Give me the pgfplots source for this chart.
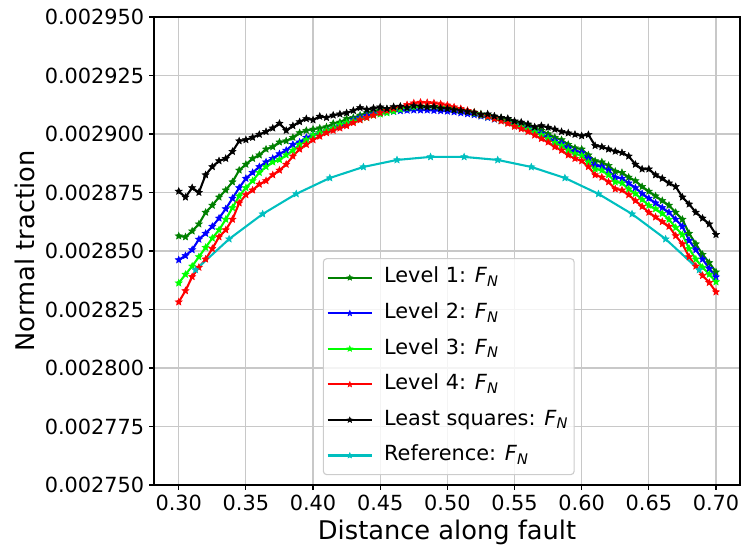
\documentclass[border=0pt]{standalone}
\usepackage{fontspec}
\setmainfont{DejaVu Sans}
\usepackage{pgfplots}
\usepackage{pgfplotstable}
\pgfplotsset{compat=1.18}
\usetikzlibrary{calc}

\definecolor{mgreen}{HTML}{008000}
\definecolor{mblue}{HTML}{0000FF}
\definecolor{mlime}{HTML}{00FF00}
\definecolor{mred}{HTML}{FF0000}
\definecolor{mcyan}{HTML}{00BFBF}
\definecolor{mgrid}{HTML}{C8C8C8}

\newcommand{\FN}{\textit{F}\textsubscript{\textit{N}}}

% filled five-pointed star like matplotlib's '*'
\pgfdeclareplotmark{mstar}{%
  \pgfpathmoveto{\pgfpointpolar{90}{\pgfplotmarksize}}%
  \pgfpathlineto{\pgfpointpolar{126}{0.45\pgfplotmarksize}}%
  \pgfpathlineto{\pgfpointpolar{162}{\pgfplotmarksize}}%
  \pgfpathlineto{\pgfpointpolar{198}{0.45\pgfplotmarksize}}%
  \pgfpathlineto{\pgfpointpolar{234}{\pgfplotmarksize}}%
  \pgfpathlineto{\pgfpointpolar{270}{0.45\pgfplotmarksize}}%
  \pgfpathlineto{\pgfpointpolar{306}{\pgfplotmarksize}}%
  \pgfpathlineto{\pgfpointpolar{342}{0.45\pgfplotmarksize}}%
  \pgfpathlineto{\pgfpointpolar{18}{\pgfplotmarksize}}%
  \pgfpathlineto{\pgfpointpolar{54}{0.45\pgfplotmarksize}}%
  \pgfpathclose
  \pgfusepathqfillstroke
}

% normal traction per level (x, L1..L4, least squares)
\pgfplotstableread{
x L1 L2 L3 L4 LS
0.300 0.0028564 0.0028462 0.0028363 0.0028282 0.0028755
0.305 0.0028560 0.0028480 0.0028400 0.0028330 0.0028730
0.310 0.0028585 0.0028505 0.0028435 0.0028390 0.0028770
0.315 0.0028615 0.0028550 0.0028475 0.0028430 0.0028750
0.320 0.0028665 0.0028575 0.0028515 0.0028465 0.0028825
0.325 0.0028695 0.0028605 0.0028555 0.0028510 0.0028860
0.330 0.0028730 0.0028640 0.0028590 0.0028560 0.0028885
0.335 0.0028760 0.0028680 0.0028635 0.0028590 0.0028895
0.340 0.0028795 0.0028725 0.0028685 0.0028635 0.0028925
0.345 0.0028845 0.0028770 0.0028735 0.0028705 0.0028970
0.350 0.0028870 0.0028810 0.0028770 0.0028740 0.0028975
0.355 0.0028895 0.0028835 0.0028800 0.0028760 0.0028985
0.360 0.0028910 0.0028860 0.0028835 0.0028785 0.0028998
0.365 0.0028935 0.0028880 0.0028860 0.0028800 0.0029010
0.370 0.0028945 0.0028895 0.0028880 0.0028825 0.0029025
0.375 0.0028965 0.0028915 0.0028890 0.0028845 0.0029045
0.380 0.0028970 0.0028930 0.0028910 0.0028870 0.0029015
0.385 0.0028985 0.0028955 0.0028930 0.0028905 0.0029035
0.390 0.0029005 0.0028965 0.0028955 0.0028935 0.0029052
0.395 0.0029015 0.0028985 0.0028975 0.0028955 0.0029065
0.400 0.0029020 0.0028995 0.0028995 0.0028975 0.0029060
0.405 0.0029025 0.0029005 0.0029005 0.0028990 0.0029075
0.410 0.0029030 0.0029015 0.0029015 0.0029005 0.0029070
0.415 0.0029045 0.0029025 0.0029025 0.0029015 0.0029080
0.420 0.0029050 0.0029035 0.0029040 0.0029025 0.0029085
0.425 0.0029065 0.0029045 0.0029048 0.0029035 0.0029090
0.430 0.0029070 0.0029060 0.0029055 0.0029048 0.0029100
0.435 0.0029080 0.0029070 0.0029063 0.0029060 0.0029112
0.440 0.0029090 0.0029078 0.0029070 0.0029070 0.0029105
0.445 0.0029095 0.0029085 0.0029080 0.0029080 0.0029110
0.450 0.0029100 0.0029090 0.0029085 0.0029090 0.0029115
0.455 0.0029105 0.0029094 0.0029090 0.0029100 0.0029108
0.460 0.0029108 0.0029096 0.0029097 0.0029108 0.0029116
0.465 0.0029110 0.0029099 0.0029105 0.0029116 0.0029118
0.470 0.0029114 0.0029101 0.0029110 0.0029125 0.0029112
0.475 0.0029115 0.0029102 0.0029115 0.0029132 0.0029120
0.480 0.0029115 0.0029102 0.0029118 0.0029135 0.0029118
0.485 0.0029116 0.0029102 0.0029118 0.0029134 0.0029115
0.490 0.0029114 0.0029100 0.0029117 0.0029132 0.0029116
0.495 0.0029113 0.0029099 0.0029114 0.0029128 0.0029110
0.500 0.0029110 0.0029097 0.0029111 0.0029123 0.0029108
0.505 0.0029106 0.0029094 0.0029106 0.0029115 0.0029103
0.510 0.0029102 0.0029090 0.0029100 0.0029108 0.0029100
0.515 0.0029098 0.0029086 0.0029095 0.0029100 0.0029095
0.520 0.0029093 0.0029082 0.0029088 0.0029092 0.0029090
0.525 0.0029085 0.0029076 0.0029080 0.0029082 0.0029083
0.530 0.0029080 0.0029070 0.0029073 0.0029075 0.0029085
0.535 0.0029072 0.0029063 0.0029065 0.0029065 0.0029076
0.540 0.0029068 0.0029058 0.0029058 0.0029055 0.0029070
0.545 0.0029060 0.0029050 0.0029048 0.0029045 0.0029066
0.550 0.0029050 0.0029040 0.0029038 0.0029032 0.0029055
0.555 0.0029043 0.0029033 0.0029030 0.0029022 0.0029050
0.560 0.0029038 0.0029025 0.0029020 0.0029010 0.0029042
0.565 0.0029025 0.0029012 0.0029008 0.0028995 0.0029030
0.570 0.0029015 0.0029002 0.0028995 0.0028980 0.0029035
0.575 0.0029000 0.0028985 0.0028980 0.0028965 0.0029028
0.580 0.0028985 0.0028970 0.0028963 0.0028945 0.0029020
0.585 0.0028975 0.0028960 0.0028950 0.0028930 0.0029010
0.590 0.0028955 0.0028940 0.0028930 0.0028910 0.0029004
0.595 0.0028940 0.0028925 0.0028915 0.0028895 0.0028998
0.600 0.0028935 0.0028920 0.0028908 0.0028885 0.0028992
0.605 0.0028910 0.0028895 0.0028880 0.0028860 0.0028997
0.610 0.0028885 0.0028865 0.0028850 0.0028825 0.0028950
0.615 0.0028880 0.0028860 0.0028845 0.0028815 0.0028945
0.620 0.0028865 0.0028845 0.0028825 0.0028795 0.0028935
0.625 0.0028840 0.0028815 0.0028795 0.0028765 0.0028926
0.630 0.0028835 0.0028810 0.0028790 0.0028760 0.0028920
0.635 0.0028815 0.0028790 0.0028765 0.0028740 0.0028905
0.640 0.0028800 0.0028770 0.0028745 0.0028715 0.0028870
0.645 0.0028775 0.0028745 0.0028720 0.0028690 0.0028850
0.650 0.0028755 0.0028725 0.0028695 0.0028665 0.0028850
0.655 0.0028735 0.0028705 0.0028680 0.0028645 0.0028825
0.660 0.0028715 0.0028685 0.0028660 0.0028625 0.0028810
0.665 0.0028695 0.0028665 0.0028635 0.0028605 0.0028790
0.670 0.0028665 0.0028635 0.0028600 0.0028565 0.0028775
0.675 0.0028635 0.0028605 0.0028570 0.0028530 0.0028730
0.680 0.0028575 0.0028545 0.0028510 0.0028475 0.0028700
0.685 0.0028530 0.0028505 0.0028465 0.0028435 0.0028665
0.690 0.0028485 0.0028465 0.0028430 0.0028395 0.0028640
0.695 0.0028450 0.0028425 0.0028400 0.0028365 0.0028615
0.700 0.0028410 0.0028389 0.0028368 0.0028325 0.0028570
}\levels

% reference solution
\pgfplotstableread{
x y
0.3125 0.0028419
0.3375 0.0028551
0.3625 0.0028658
0.3875 0.0028744
0.4125 0.0028812
0.4375 0.0028859
0.4625 0.0028889
0.4875 0.0028902
0.5125 0.0028902
0.5375 0.0028889
0.5625 0.0028859
0.5875 0.0028812
0.6125 0.0028744
0.6375 0.0028658
0.6625 0.0028551
0.6875 0.0028419
}\refdata

\begin{document}
\begin{tikzpicture}
\begin{axis}[
  scale only axis,
  width=421.9pt, height=337pt,
  xmin=0.2816, xmax=0.7179,
  ymin=0.00275, ymax=0.00295,
  xtick={0.30,0.35,0.40,0.45,0.50,0.55,0.60,0.65,0.70},
  ytick={0.00275,0.002775,0.0028,0.002825,0.00285,0.002875,0.0029,0.002925,0.00295},
  scaled x ticks=false, scaled y ticks=false,
  xticklabel style={/pgf/number format/.cd,fixed,fixed zerofill,precision=2,assume math mode=true},
  yticklabel style={/pgf/number format/.cd,fixed,fixed zerofill,precision=6,assume math mode=true},
  tick label style={font=\fontsize{15}{18}\selectfont},
  label style={font=\fontsize{18.5}{22}\selectfont},
  xlabel={Distance along fault},
  ylabel={Normal traction},
  tick pos=left, tick align=outside,
  major tick length=3.5pt,
  tick style={black, line width=0.8pt},
  axis line style={black, line width=0.8pt},
  grid=major,
  grid style={mgrid, line width=0.8pt},
  every axis plot/.append style={line width=1.5pt, mark=mstar, mark size=2.6pt,
    mark options={solid, line width=0.4pt}},
  legend image code/.code={\draw[mark repeat=2,mark phase=2,mark size=2.1pt,#1]
    plot coordinates {(0pt,0pt)(16pt,0pt)(32pt,0pt)};
    \path (38pt,0pt);},
  legend style={at={(0.288,0.021)}, anchor=south west,
    draw=black!20, line width=0.8pt, rounded corners=2.5pt,
    fill=white, fill opacity=0.8, text opacity=1, draw opacity=1,
    font=\fontsize{15}{18}\selectfont,
    inner xsep=2.3pt, inner ysep=4.5pt,
    row sep=7.1pt,
    nodes={inner sep=2pt, text height=11pt, text depth=3.5pt},
    cells={anchor=west}},
]
\addplot[mgreen] table[x=x, y=L1] {\levels};
\addlegendentry{Level 1: \FN}
\addplot[mblue] table[x=x, y=L2] {\levels};
\addlegendentry{Level 2: \FN}
\addplot[mlime] table[x=x, y=L3] {\levels};
\addlegendentry{Level 3: \FN}
\addplot[mred] table[x=x, y=L4] {\levels};
\addlegendentry{Level 4: \FN}
\addplot[black] table[x=x, y=LS] {\levels};
\addlegendentry{Least squares: \FN}
\addplot[mcyan] table[x=x, y=y] {\refdata};
\addlegendentry{Reference: \FN}
\end{axis}
\pgfresetboundingbox
\path ($(current axis.south west)+(-110.9pt,-45.4pt)$) rectangle ($(current axis.north east)+(0.7pt,12.2pt)$);
\end{tikzpicture}
\end{document}
